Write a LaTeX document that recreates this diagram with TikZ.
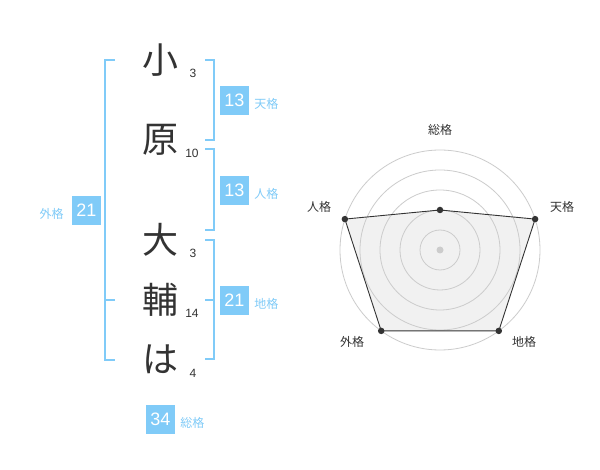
\documentclass[tikz,border=0pt]{standalone}
\usepackage{fontspec}
\setmainfont{Liberation Sans}
\newfontfamily\jp{Noto Sans CJK JP}
\usetikzlibrary{positioning}
\definecolor{kakublue}{HTML}{80CBF8}
\definecolor{ink}{HTML}{333333}
\definecolor{ring}{HTML}{CCCCCC}
\definecolor{area}{HTML}{F1F1F1}
\tikzstyle{moji}=[font=\jp\fontsize{36}{36}\selectfont, text=ink, inner sep=0pt]
\tikzstyle{kakusu}=[font=\fontsize{12}{12}\selectfont, text=ink, inner sep=0pt]
\tikzstyle{kakubox}=[fill=kakublue, text=white, minimum size=29pt, inner sep=0pt, font=\fontsize{18}{18}\selectfont]
\tikzstyle{kakuname}=[text=kakublue, font=\jp\fontsize{12}{12}\selectfont, inner sep=0pt]
\tikzstyle{bracket}=[draw=kakublue, line width=2pt]
\tikzstyle{ten}=[circle, fill=ink, inner sep=0pt, minimum size=6.5pt]
\tikzstyle{hub}=[circle, fill=ring, inner sep=0pt, minimum size=7pt]
\tikzstyle{axislabel}=[font=\jp\fontsize{12}{12}\selectfont, text=ink, inner sep=0pt]

\begin{document}
\begin{tikzpicture}[x=1pt, y=-1pt]
  \useasboundingbox[fill=white] (0,0) rectangle (600,470);
  % name characters and stroke counts
  \node[moji] (c1) at (160,60)  {小};
  \node[moji] (c2) at (160,140) {原};
  \node[moji] (c3) at (160,240) {大};
  \node[moji] (c4) at (160,300) {輔};
  \node[moji] (c5) at (160,359) {は};
  \node[kakusu] (n1) at ([xshift=33pt,yshift=-13pt]c1.center) {3};
  \node[kakusu] (n2) at ([xshift=32pt,yshift=-13pt]c2.center) {10};
  \node[kakusu] (n3) at ([xshift=33pt,yshift=-13pt]c3.center) {3};
  \node[kakusu] (n4) at ([xshift=32pt,yshift=-13pt]c4.center) {14};
  \node[kakusu] (n5) at ([xshift=33pt,yshift=-14pt]c5.center) {4};
  % brackets
  \coordinate (ten a) at (205,60);  \coordinate (ten b) at (205,140);
  \coordinate (jin a) at (205,149); \coordinate (jin b) at (205,230);
  \coordinate (chi a) at (205,240); \coordinate (chi m) at (205,300); \coordinate (chi b) at (205,359);
  \coordinate (gai a) at (115,60);  \coordinate (gai m) at (115,300); \coordinate (gai b) at (115,360);
  \draw[bracket] (ten a) -- ++(9,0) |- (ten b);
  \draw[bracket] (jin a) -- ++(9,0) |- (jin b);
  \draw[bracket] (chi a) -- ++(9,0) |- (chi b);
  \draw[bracket] (chi m) -- ++(9,0);
  \draw[bracket] (gai a) -- ++(-10,0) |- (gai b);
  \draw[bracket] (gai m) -- ++(-10,0);
  % fortune boxes
  \node[kakubox] (tenkaku) at (234.5,100.5) {13};
  \node[kakubox] (jinkaku) at (234.5,190.5) {13};
  \node[kakubox] (chikaku) at (234.5,300.5) {21};
  \node[kakubox] (gaikaku) at (86.5,210.5)  {21};
  \node[kakubox] (soukaku) at (160.5,419.5) {34};
  \node[kakuname] (tenkaku name) [right=5pt of tenkaku, yshift=-3pt] {天格};
  \node[kakuname] (jinkaku name) [right=5pt of jinkaku, yshift=-3pt] {人格};
  \node[kakuname] (chikaku name) [right=5pt of chikaku, yshift=-3pt] {地格};
  \node[kakuname] (gaikaku name) [left=8pt of gaikaku, yshift=-3pt] {外格};
  \node[kakuname] (soukaku name) [right=5pt of soukaku, yshift=-3pt] {総格};
  % radar chart
  \begin{scope}[shift={(440,250)}, y=1pt]
    \coordinate (sou) at (90:40);
    \coordinate (ten) at (18:100);
    \coordinate (chi) at (-54:100);
    \coordinate (gai) at (-126:100);
    \coordinate (jin) at (162:100);
    \fill[area] (sou) -- (ten) -- (chi) -- (gai) -- (jin) -- cycle;
    \foreach \r in {20,40,...,100}
      \draw[ring, line width=0.8pt] (0,0) circle (\r);
    \draw[ink, line width=0.9pt] (sou) -- (ten) -- (chi) -- (gai) -- (jin) -- cycle;
    \node[hub] (origin) at (0,0) {};
    \foreach \p in {sou,ten,chi,gai,jin}
      \node[ten] (\p dot) at (\p) {};
    \node[axislabel] (sou label) at (0,120)     {総格};
    \node[axislabel] (ten label) at (122,43)    {天格};
    \node[axislabel] (chi label) at (84,-92)    {地格};
    \node[axislabel] (gai label) at (-88,-92)   {外格};
    \node[axislabel] (jin label) at (-121,43)   {人格};
  \end{scope}
\end{tikzpicture}
\end{document}
